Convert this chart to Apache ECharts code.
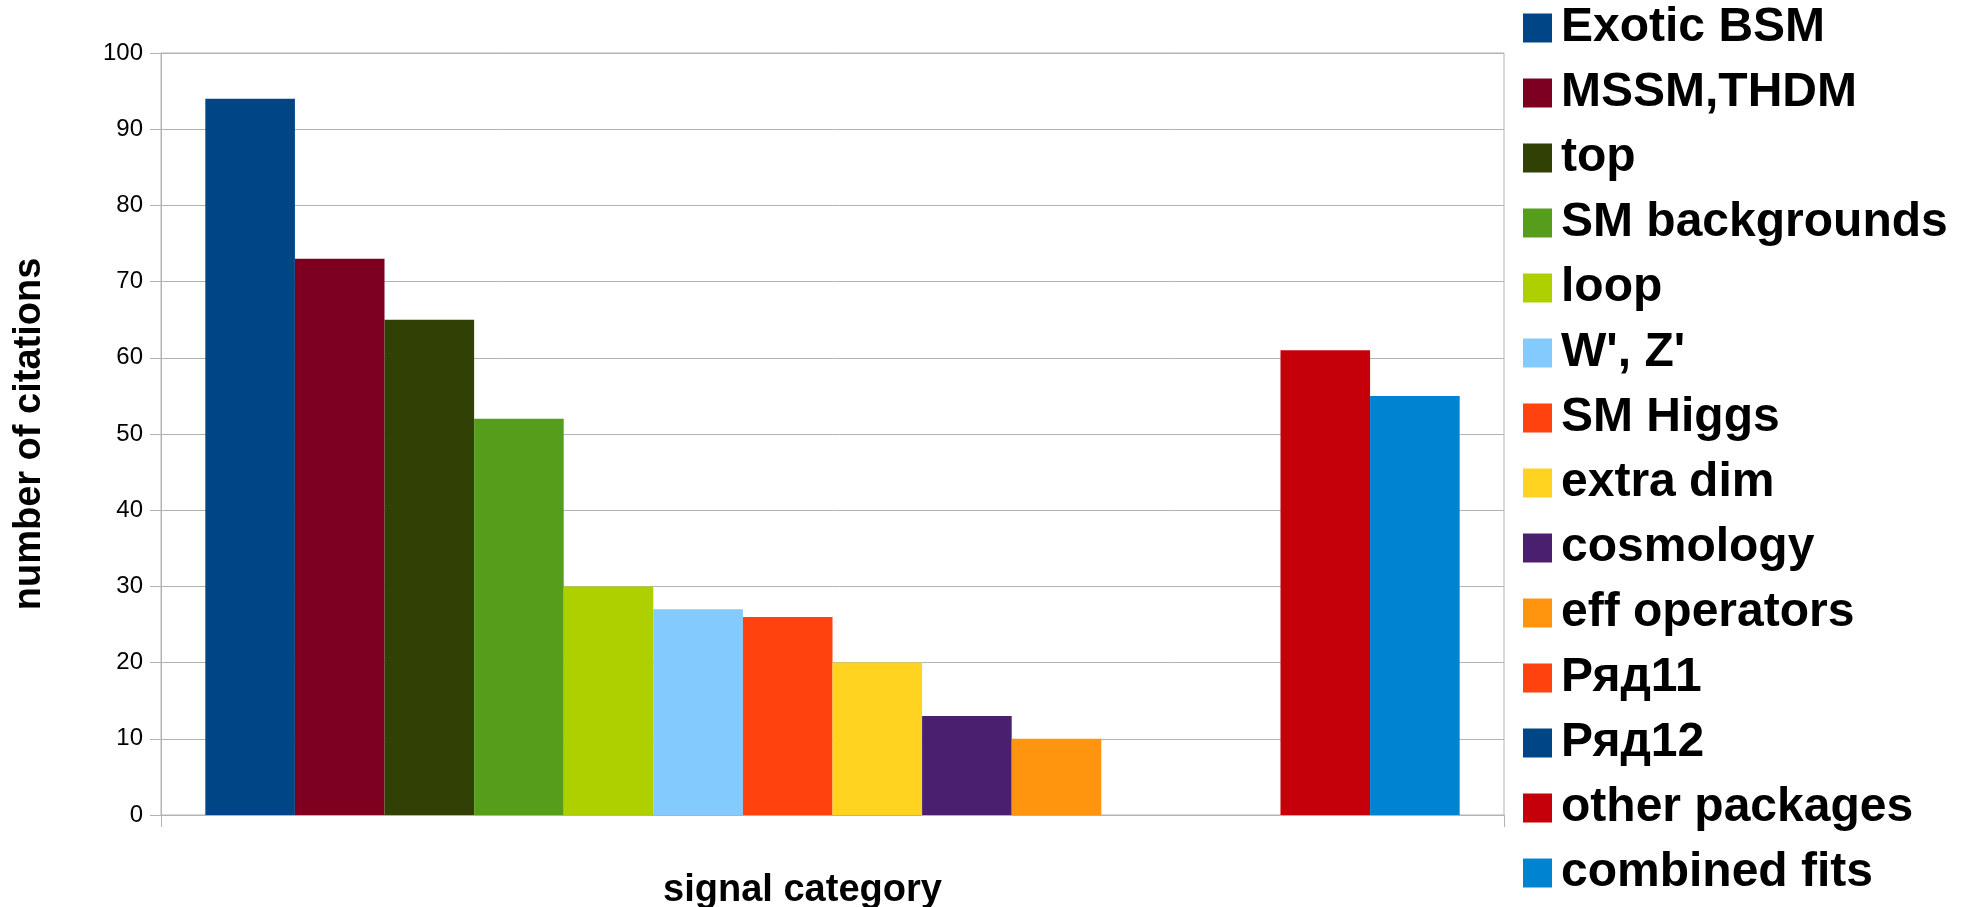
<!DOCTYPE html>
<html>
<head>
<meta charset="utf-8">
<title>number of citations by signal category</title>
<script src="https://cdn.jsdelivr.net/npm/echarts@6/dist/echarts.min.js"></script>
<style>
  html, body { margin: 0; padding: 0; background: #ffffff; }
  #chart { width: 1974px; height: 907px; }
</style>
</head>
<body>
<div id="chart"></div>
<script>
// Series names, in legend order
const seriesNames = [
  'Exotic BSM', 'MSSM,THDM', 'top', 'SM backgrounds', 'loop', "W', Z'",
  'SM Higgs', 'extra dim', 'cosmology', 'eff operators', 'Ряд11', 'Ряд12',
  'other packages', 'combined fits'
];

// Citation counts per series (Ряд11 / Ряд12 carry no value)
const citationCounts = [94, 73, 65, 52, 30, 27, 26, 20, 13, 10, null, null, 61, 55];

// Fill colour per series
const seriesColors = [
  '#004586', '#7e0021', '#314004', '#579d1c', '#aecf00', '#83caff',
  '#ff420e', '#ffd320', '#4b1f6f', '#ff950e', '#ff420e', '#004586',
  '#c5000b', '#0084d1'
];

// Single (unlabelled) category on the x axis
const categories = [''];

// Y axis ticks
const yMin = 0, yMax = 100, yStep = 10;

const FONT = 'Liberation Sans';
const GRID_GRAY = '#b3b3b3';

const chart = echarts.init(document.getElementById('chart'), null, { renderer: 'canvas' });

const series = seriesNames.map((name, i) => ({
  name: name,
  type: 'bar',
  data: [citationCounts[i]],
  itemStyle: { color: seriesColors[i] },
  barGap: '0%',
  barCategoryGap: '6.6%',
  emphasis: { disabled: true },
  animation: false
}));

chart.setOption({
  backgroundColor: '#ffffff',
  animation: false,
  textStyle: { fontFamily: FONT },
  grid: {
    left: 161, right: 470, top: 53, bottom: 92,
    outerBoundsMode: 'none',
    containLabel: false,
    show: true, borderColor: GRID_GRAY, borderWidth: 1
  },
  legend: {
    orient: 'vertical',
    left: 1518,
    top: -2,
    itemWidth: 29,
    itemHeight: 29,
    itemGap: 15,
    icon: 'rect',
    selectedMode: false,
    data: seriesNames,
    textStyle: {
      fontFamily: FONT,
      fontSize: 48,
      fontWeight: 'bold',
      color: '#000000',
      lineHeight: 50,
      padding: [0, 0, 0, 4]
    }
  },
  xAxis: {
    type: 'category',
    data: categories,
    name: 'signal category',
    nameLocation: 'middle',
    nameGap: 57,
    nameTextStyle: {
      fontFamily: FONT, fontSize: 38, fontWeight: 'bold', color: '#000000',
      padding: [0, 60, 0, 0]
    },
    axisLine: { show: true, lineStyle: { color: GRID_GRAY, width: 1 } },
    axisTick: { show: true, length: 12, lineStyle: { color: GRID_GRAY } },
    axisLabel: { show: false },
    splitLine: { show: false }
  },
  yAxis: {
    type: 'value',
    min: yMin, max: yMax, interval: yStep,
    name: 'number of citations',
    nameLocation: 'middle',
    nameGap: 112,
    nameTextStyle: { fontFamily: FONT, fontSize: 38, fontWeight: 'bold', color: '#000000' },
    axisLine: { show: true, lineStyle: { color: GRID_GRAY, width: 1 } },
    axisTick: { show: true, length: 11, lineStyle: { color: GRID_GRAY } },
    axisLabel: { fontFamily: FONT, fontSize: 24, color: '#000000', margin: 18 },
    splitLine: { show: true, lineStyle: { color: GRID_GRAY, width: 1 } }
  },
  tooltip: { show: false },
  series: series
});
</script>
</body>
</html>
